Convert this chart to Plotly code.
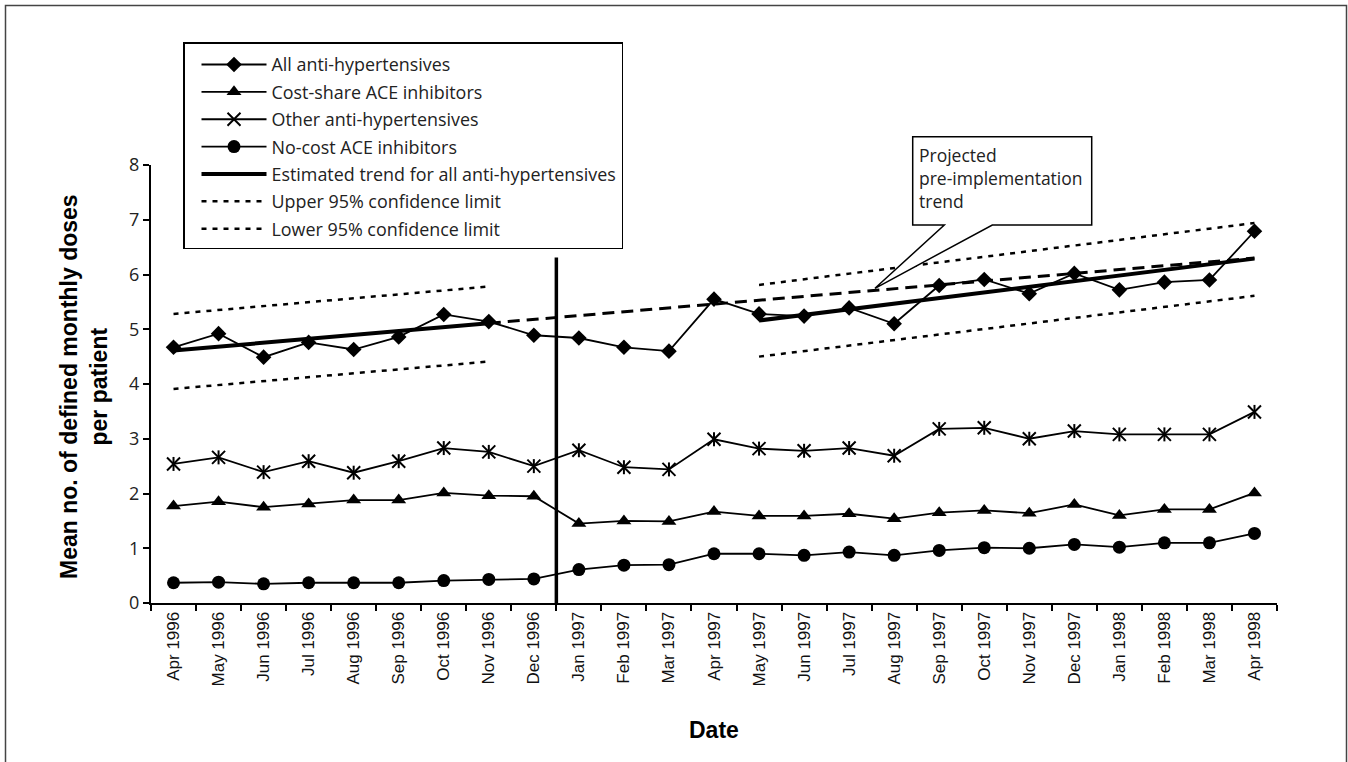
import plotly.graph_objects as go

# Months of the study period
months = ["Apr 1996", "May 1996", "Jun 1996", "Jul 1996", "Aug 1996", "Sep 1996",
          "Oct 1996", "Nov 1996", "Dec 1996", "Jan 1997", "Feb 1997", "Mar 1997",
          "Apr 1997", "May 1997", "Jun 1997", "Jul 1997", "Aug 1997", "Sep 1997",
          "Oct 1997", "Nov 1997", "Dec 1997", "Jan 1998", "Feb 1998", "Mar 1998",
          "Apr 1998"]

# Mean defined monthly doses per patient
all_antihyp = [4.67, 4.92, 4.49, 4.76, 4.63, 4.86, 5.27, 5.14, 4.89, 4.84, 4.67, 4.60,
               5.55, 5.28, 5.24, 5.39, 5.10, 5.80, 5.91, 5.65, 6.02, 5.72, 5.86, 5.90,
               6.79]
cost_share_ace = [1.77, 1.85, 1.75, 1.81, 1.88, 1.88, 2.01, 1.96, 1.95, 1.45, 1.50, 1.49,
                  1.67, 1.59, 1.59, 1.63, 1.54, 1.65, 1.69, 1.64, 1.80, 1.60, 1.71, 1.71,
                  2.01]
other_antihyp = [2.54, 2.66, 2.39, 2.59, 2.38, 2.59, 2.83, 2.76, 2.50, 2.79, 2.48, 2.44,
                 2.99, 2.82, 2.78, 2.83, 2.69, 3.18, 3.20, 3.00, 3.14, 3.08, 3.08, 3.08,
                 3.49]
no_cost_ace = [0.37, 0.38, 0.35, 0.37, 0.37, 0.37, 0.41, 0.43, 0.44, 0.61, 0.69, 0.70,
               0.90, 0.90, 0.87, 0.93, 0.87, 0.96, 1.01, 1.00, 1.07, 1.02, 1.10, 1.10,
               1.27]

# Segmented regression: pre-period (Apr-Nov 1996) and post-period (May 1997-Apr 1998)
trend_x = ["Apr 1996", "Nov 1996", "Dec 1996", "May 1997", "Apr 1998"]
trend_y = [4.61, 5.11, None, 5.16, 6.29]
upper_ci_y = [5.28, 5.78, None, 5.81, 6.94]
lower_ci_y = [3.91, 4.41, None, 4.50, 5.61]

# Pre-implementation trend projected forward
projected_x = ["Nov 1996", "Apr 1998"]
projected_y = [5.11, 6.30]

# Policy start (between Dec 1996 and Jan 1997)
policy_line_top = 6.31

# Plot-area geometry in pixels
W, H = 1348, 762
L, R, T, B = 151, 71, 165, 159
PW, PH = W - L - R, H - T - B


def px(x):
    return (x - L) / PW


def py(y):
    return (H - B - y) / PH


LEG_FONT = dict(family="Open Sans", size=17.9, color="#222")

fig = go.Figure()

fig.add_trace(go.Scatter(
    x=months, y=all_antihyp, name="All anti-hypertensives", legendgroup="g1",
    mode="lines+markers", line=dict(color="black", width=1.8),
    marker=dict(symbol="diamond", size=12, color="black")))
fig.add_trace(go.Scatter(
    x=months, y=cost_share_ace, name="Cost-share ACE inhibitors", legendgroup="g2",
    mode="lines+markers", line=dict(color="black", width=1.8),
    marker=dict(symbol="triangle-up", size=13, color="black")))
fig.add_trace(go.Scatter(
    x=months, y=other_antihyp, name="Other anti-hypertensives", legendgroup="g3",
    mode="lines+markers", line=dict(color="black", width=1.8),
    marker=dict(symbol="x-thin-open", size=13, color="black",
                line=dict(color="black", width=2))))
fig.add_trace(go.Scatter(
    x=months, y=other_antihyp, showlegend=False, legendgroup="g3",
    mode="markers", hoverinfo="skip",
    marker=dict(symbol="line-ns-open", size=10, color="black",
                line=dict(color="black", width=2))))
fig.add_trace(go.Scatter(
    x=months, y=no_cost_ace, name="No-cost ACE inhibitors", legendgroup="g4",
    mode="lines+markers", line=dict(color="black", width=1.8),
    marker=dict(symbol="circle", size=13, color="black")))
fig.add_trace(go.Scatter(
    x=trend_x, y=trend_y, name="Estimated trend for all anti-hypertensives",
    legendgroup="g5", mode="lines", connectgaps=False,
    line=dict(color="black", width=4)))
fig.add_trace(go.Scatter(
    x=trend_x, y=upper_ci_y, name="Upper 95% confidence limit", legendgroup="g6",
    mode="lines", connectgaps=False,
    line=dict(color="black", width=2.5, dash="5px,6px")))
fig.add_trace(go.Scatter(
    x=trend_x, y=lower_ci_y, name="Lower 95% confidence limit", legendgroup="g7",
    mode="lines", connectgaps=False,
    line=dict(color="black", width=2.5, dash="5px,6px")))
fig.add_trace(go.Scatter(
    x=projected_x, y=projected_y, showlegend=False, mode="lines",
    line=dict(color="black", width=3, dash="12px,7px")))

shapes = [
    # policy implementation marker
    dict(type="line", xref="x", yref="y", x0=8.5, x1=8.5, y0=0, y1=policy_line_top,
         line=dict(color="black", width=3.5)),
    # outer frame
    dict(type="rect", xref="paper", yref="paper",
         x0=px(5.5), x1=px(1346.5), y0=py(775), y1=py(5.5),
         line=dict(color="#444", width=1.5)),
]

# Callout box with pointer to the projected trend
box_l, box_r, box_t, box_b = 912.7, 1091.7, 136.7, 225
wedge_a, wedge_b = 944.3, 992.3
tip_x, tip_y = 875, 288.3
pts = [(box_l, box_t), (box_r, box_t), (box_r, box_b), (wedge_b, box_b),
       (tip_x, tip_y), (wedge_a, box_b), (box_l, box_b)]
path = "M " + " L ".join(f"{px(a):.5f},{py(b):.5f}" for a, b in pts) + " Z"
shapes.append(dict(type="path", xref="paper", yref="paper", path=path,
                   fillcolor="white", line=dict(color="black", width=1.5)))

annotations = [
    dict(xref="paper", yref="paper", x=px(917), y=py(141), xanchor="left", yanchor="top",
         align="left", showarrow=False,
         text="Projected<br>pre-implementation<br>trend",
         font=dict(family="Open Sans", size=17.5, color="#222")),
    dict(xref="paper", yref="paper", x=px(84), y=py(387), xanchor="center",
         yanchor="middle", textangle=-90, showarrow=False,
         text="<b>Mean no. of defined monthly doses<br>per patient</b>",
         font=dict(family="Liberation Sans", size=23, color="black")),
    dict(xref="paper", yref="paper", x=px(714), y=py(730), xanchor="center",
         yanchor="middle", showarrow=False, text="<b>Date</b>",
         font=dict(family="Liberation Sans", size=23, color="black")),
]

fig.update_layout(
    width=W, height=H,
    margin=dict(l=L, r=R, t=T, b=B),
    paper_bgcolor="white", plot_bgcolor="white",
    showlegend=True,
    legend=dict(x=px(183), y=py(42), xanchor="left", yanchor="top",
                bordercolor="black", borderwidth=1.5, bgcolor="white",
                font=LEG_FONT, traceorder="grouped", tracegroupgap=1.1,
                itemwidth=65, indentation=12,
                title=dict(text="\u00a0", font=dict(size=2.2, color="white"))),
    shapes=shapes,
    annotations=annotations,
    xaxis=dict(type="category", categoryorder="array", categoryarray=months,
               range=[-0.5, len(months) - 0.5], tickson="boundaries",
               ticks="outside", ticklen=6, tickwidth=1.5, tickcolor="black",
               showline=True, linecolor="black", linewidth=2, showgrid=False,
               tickangle=-90, tickfont=dict(family="Liberation Sans", size=17,
                                            color="#111"),
               zeroline=False),
    yaxis=dict(range=[0, 8], dtick=1, ticks="outside", ticklen=6, tickwidth=1.5,
               tickcolor="black", showline=True, linecolor="black", linewidth=2,
               showgrid=False, zeroline=False,
               tickfont=dict(family="Open Sans", size=18, color="#222")),
)

fig.write_html("out.html")
